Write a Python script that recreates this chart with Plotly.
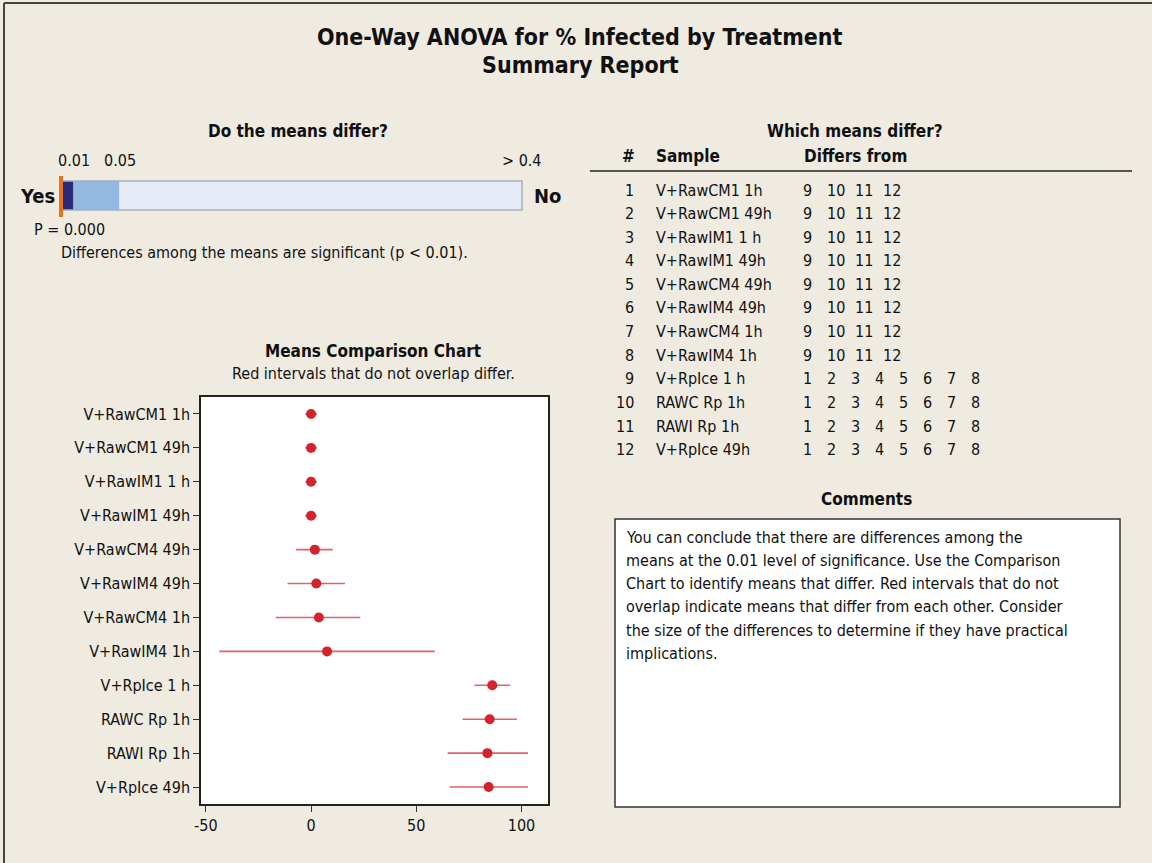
import plotly.graph_objects as go

W, H = 1152, 863

# ---------------- data ----------------
samples = ["V+RawCM1 1h", "V+RawCM1 49h", "V+RawIM1 1 h", "V+RawIM1 49h",
           "V+RawCM4 49h", "V+RawIM4 49h", "V+RawCM4 1h", "V+RawIM4 1h",
           "V+RpIce 1 h", "RAWC Rp 1h", "RAWI Rp 1h", "V+RpIce 49h"]
means = [0.0, 0.0, 0.0, 0.0, 1.8, 2.5, 3.7, 7.6, 86.1, 84.9, 83.8, 84.4]
lower = [-2.8, -2.8, -2.8, -2.8, -7.1, -11.2, -16.8, -43.6, 77.6, 72.0, 64.9, 65.9]
upper = [2.8, 2.8, 2.8, 2.8, 10.3, 16.1, 23.4, 58.8, 94.6, 97.8, 103.1, 103.1]
x_ticks = [-50, 0, 50, 100]
x_tick_labels = ["-50", "0", "50", "100"]

differs_from = [[9, 10, 11, 12]] * 8 + [[1, 2, 3, 4, 5, 6, 7, 8]] * 4

p_value = 0.000
p_thresholds = [0.0, 0.01, 0.05, 0.4]
p_labels = ["0.01", "0.05", "> 0.4"]
p_colors = ["#2A2A78", "#93B9E2", "#E4EBF6"]

comment_lines = [
    "You can conclude that there are differences among the",
    "means at the 0.01 level of significance. Use the Comparison",
    "Chart to identify means that differ. Red intervals that do not",
    "overlap indicate means that differ from each other. Consider",
    "the size of the differences to determine if they have practical",
    "implications.",
]

# ---------------- helpers ----------------
def px(x):
    return x / W

def py(y):
    return 1 - y / H

FONT = "DejaVu Sans Condensed, Liberation Sans, Arial, sans-serif"
TXT = "#111111"
BG = "#EFEBE1"
FS = 16      # body font size
FB = 17      # bold heading size

PBAR_DOM = [px(62), px(522)]
P_MAX = p_thresholds[-1]

def p_to_paper(p):
    return PBAR_DOM[0] + (p / P_MAX) * (PBAR_DOM[1] - PBAR_DOM[0])

fig = go.Figure()

# Means comparison chart
fig.add_trace(go.Scatter(
    x=means, y=samples, mode="markers",
    marker=dict(color="#D6222A", size=10),
    error_x=dict(type="data", symmetric=False,
                 array=[u - m for u, m in zip(upper, means)],
                 arrayminus=[m - l for l, m in zip(lower, means)],
                 color="#E0626A", thickness=1.6, width=0),
    xaxis="x", yaxis="y", showlegend=False, hoverinfo="skip",
))

# p-value bar (stacked segments)
for i in range(3):
    fig.add_trace(go.Bar(
        x=[p_thresholds[i + 1] - p_thresholds[i]], base=[p_thresholds[i]], y=[0],
        orientation="h", width=1, marker=dict(color=p_colors[i], line=dict(width=0)),
        xaxis="x2", yaxis="y2", showlegend=False, hoverinfo="skip",
    ))

ann = []

def A(text, x, y, size=FS, bold=False, xanchor="center", xref="paper", color=TXT):
    ann.append(dict(text=f"<b>{text}</b>" if bold else text, x=x, y=py(y), xref=xref,
                    yref="paper", xanchor=xanchor, yanchor="middle", showarrow=False,
                    font=dict(family=FONT, size=size, color=color)))

# Titles
A("One-Way ANOVA for % Infected by Treatment", px(580), 37, size=23, bold=True)
A("Summary Report", px(580), 65, size=23, bold=True)

# p-value section
A("Do the means differ?", px(298), 131, size=FB, bold=True)
for t, lab in zip(p_thresholds[1:], p_labels):
    A(lab, t, 161, xref="x2")
A("Yes", px(57), 196, size=20, bold=True, xanchor="right")
A("No", px(532), 196, size=20, bold=True, xanchor="left")
A(f"P = {p_value:.3f}", px(32), 229, xanchor="left")
A("Differences among the means are significant (p &lt; 0.01).", px(59), 252, xanchor="left")

# Means comparison title
A("Means Comparison Chart", px(373), 351, size=FB, bold=True)
A("Red intervals that do not overlap differ.", px(373), 373)

# Which means differ table
A("Which means differ?", px(855), 131, size=FB, bold=True)
A("#", px(628), 156, size=FB, bold=True)
A("Sample", px(654), 156, size=FB, bold=True, xanchor="left")
A("Differs from", px(802), 156, size=FB, bold=True, xanchor="left")
row_y0, row_dy = 190, 23.6
for i, (s, dfs) in enumerate(zip(samples, differs_from)):
    yy = row_y0 + i * row_dy
    A(str(i + 1), px(636), yy, xanchor="right")
    A(s, px(654), yy, xanchor="left")
    xx = 801
    for n in dfs:
        A(str(n), px(xx), yy, xanchor="left")
        xx += 20 + 4 * len(str(n))

# Comments
A("Comments", px(866), 499, size=FB, bold=True)
for j, line in enumerate(comment_lines):
    A(line, px(624), 537 + j * 23.3, xanchor="left")

shapes = [
    # page border (top & left)
    dict(type="line", xref="paper", yref="paper", x0=px(4), x1=1, y0=py(3), y1=py(3),
         line=dict(color="#444444", width=2)),
    dict(type="line", xref="paper", yref="paper", x0=px(4), x1=px(4), y0=0, y1=py(3),
         line=dict(color="#444444", width=2)),
    # table header rule
    dict(type="line", xref="paper", yref="paper", x0=px(590), x1=px(1132), y0=py(171), y1=py(171),
         line=dict(color="#222222", width=1.5)),
    # comments box
    dict(type="rect", xref="paper", yref="paper", x0=px(615), x1=px(1120), y0=py(807), y1=py(519),
         fillcolor="white", line=dict(color="#333333", width=1.5), layer="below"),
    # p bar outline
    dict(type="rect", xref="paper", yref="paper", x0=p_to_paper(0), x1=p_to_paper(P_MAX),
         y0=py(210), y1=py(181), line=dict(color="#A9AFBA", width=1.5)),
    # p-value marker
    dict(type="line", xref="paper", yref="paper", x0=p_to_paper(p_value) - px(1),
         x1=p_to_paper(p_value) - px(1), y0=py(217), y1=py(176),
         line=dict(color="#E8731C", width=4)),
]

fig.update_layout(
    width=W, height=H, margin=dict(l=0, r=0, t=0, b=0, pad=0, autoexpand=False),
    paper_bgcolor=BG, plot_bgcolor="white",
    font=dict(family=FONT, size=FS, color=TXT),
    annotations=ann, shapes=shapes, showlegend=False,
    xaxis=dict(domain=[px(201), px(548)], range=[-52.3, 112.6], tickvals=x_ticks,
               ticktext=x_tick_labels,
               ticks="outside", ticklen=6, tickcolor="#333", showgrid=False, zeroline=False,
               showline=True, mirror=True, linecolor="#222", linewidth=1.5, automargin=False,
               tickfont=dict(size=FS, color=TXT), anchor="y"),
    yaxis=dict(domain=[py(804), py(397)], type="category", categoryorder="array",
               categoryarray=samples, range=[11.5, -0.5], ticks="outside", ticklen=6,
               tickcolor="#333", showgrid=False, zeroline=False, showline=True, mirror=True,
               linecolor="#222", linewidth=1.5, automargin=False,
               tickfont=dict(size=FS, color=TXT), anchor="x"),
    xaxis2=dict(domain=PBAR_DOM, range=[0, P_MAX], visible=False, anchor="y2",
                automargin=False),
    yaxis2=dict(domain=[py(210), py(181)], range=[-0.5, 0.5], visible=False, anchor="x2",
                automargin=False),
    barmode="overlay",
)

fig.write_html("out.html")
